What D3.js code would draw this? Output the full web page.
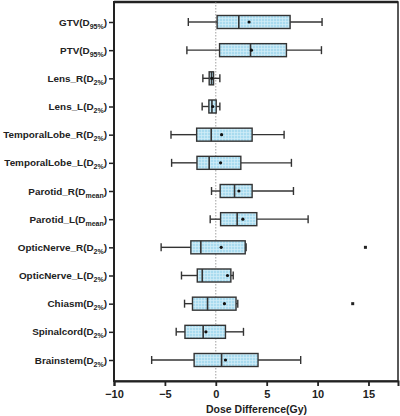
<!DOCTYPE html>
<html><head><meta charset="utf-8">
<script src="https://cdn.jsdelivr.net/npm/d3@7"></script>
<style>body{margin:0;background:#fff}svg{display:block}</style>
</head><body>
<script>
const labels = [["GTV(D","95%",")"],["PTV(D","95%",")"],["Lens_R(D","2%",")"],["Lens_L(D","2%",")"],
["TemporalLobe_R(D","2%",")"],["TemporalLobe_L(D","2%",")"],["Parotid_R(D","mean",")"],["Parotid_L(D","mean",")"],
["OpticNerve_R(D","2%",")"],["OpticNerve_L(D","2%",")"],["Chiasm(D","2%",")"],["Spinalcord(D","2%",")"],["Brainstem(D","2%",")"]];
const categories = labels.map(l=>l.join(""));
const whiskerLow  = [-2.7,-2.84,-1.27,-1.34,-4.4,-4.34,-0.42,-0.55,-5.37,-3.37,-3.07,-3.89,-6.3];
const q1          = [0.13,0.37,-0.65,-0.68,-1.88,-1.85,0.43,0.47,-2.45,-1.82,-2.29,-3.03,-2.13];
const median      = [2.26,3.41,-0.42,-0.38,-0.45,-0.65,1.84,2.1,-1.47,-1.33,-0.81,-1.24,0.57];
const q3          = [7.3,6.94,-0.22,0.04,3.57,2.46,3.57,4.03,2.89,1.48,1.99,0.95,4.15];
const whiskerHigh = [10.44,10.38,0.4,0.4,6.71,7.43,7.63,9.07,2.98,1.71,2.16,2.72,8.34];
const means       = [3.27,3.5,-0.4,-0.3,0.57,0.47,2.27,2.66,0.53,1.15,0.85,-0.97,0.95];
const outliers    = [{cat:8,v:14.7},{cat:10,v:13.45}];
const xTicks = [-10,-5,0,5,10,15];

const W=400,H=416;
const m={l:114,r:2,t:2,b:35};
const FONT="Liberation Sans, Arial, sans-serif";
const svg=d3.select("body").append("svg").attr("width",W).attr("height",H);
const defs=svg.append("defs");
const pat=defs.append("pattern").attr("id","grid").attr("patternUnits","userSpaceOnUse").attr("width",3).attr("height",3);
pat.append("rect").attr("width",3).attr("height",3).attr("fill","#a9dbef");
pat.append("path").attr("d","M0,0.5H3M0.5,0V3").attr("stroke","#d2eef8").attr("stroke-width",0.7);

const x=d3.scaleLinear().domain([-10,17.9]).range([m.l,W-m.r]);
const y=d3.scalePoint().domain(categories).range([22,360]);
const bottom=H-m.b;

// frame
svg.append("rect").attr("x",m.l).attr("y",m.t).attr("width",W-m.r-m.l).attr("height",bottom-m.t)
  .attr("fill","none").attr("stroke","#222").attr("stroke-width",1.5);
svg.append("line").attr("x1",m.l).attr("x2",W-m.r).attr("y1",m.t).attr("y2",m.t).attr("stroke","#222").attr("stroke-width",2.5);

// zero line
svg.append("line").attr("x1",x(0)).attr("x2",x(0)).attr("y1",m.t).attr("y2",bottom)
  .attr("stroke","#888").attr("stroke-width",0.8).attr("stroke-dasharray","1.5,1.5");

const xa=svg.append("g").attr("transform",`translate(0,${bottom})`)
  .call(d3.axisBottom(x).tickValues(xTicks).tickSize(5).tickPadding(4).tickFormat(d3.format("d")));
xa.select(".domain").attr("stroke","#222").attr("stroke-width",2);
xa.selectAll(".tick line").attr("stroke","#222").attr("stroke-width",1.8);
xa.selectAll("text").attr("font-family",FONT).attr("font-weight","bold").attr("font-size",11).attr("fill","#222");

const ya=svg.append("g").attr("transform",`translate(${m.l},0)`)
  .call(d3.axisLeft(y).tickSize(5).tickPadding(3).tickFormat(""));
ya.select(".domain").remove();
ya.selectAll(".tick line").attr("stroke","#222").attr("stroke-width",1.5);
svg.append("line").attr("x1",m.l).attr("x2",m.l).attr("y1",m.t-1).attr("y2",bottom+1).attr("stroke","#222").attr("stroke-width",2);

labels.forEach((l,i)=>{
  const t=svg.append("text").attr("x",m.l-7).attr("y",y(categories[i])+3.5).attr("text-anchor","end")
    .attr("font-family",FONT).attr("font-weight","bold").attr("font-size",9.9).attr("fill","#222");
  t.append("tspan").text(l[0]);
  t.append("tspan").text(l[1]).attr("font-size",7).attr("dy",3);
  t.append("tspan").text(l[2]).attr("dy",-3);
});

svg.append("text").attr("x",x(4)).attr("y",413).attr("text-anchor","middle")
  .attr("font-family",FONT).attr("font-weight","bold").attr("font-size",10.5).attr("fill","#222")
  .text("Dose Difference(Gy)");

const bh=6.5, cap=4;
categories.forEach((c,i)=>{
  const cy=y(c);
  const g=svg.append("g").attr("stroke","#333").attr("stroke-width",1.4);
  g.append("line").attr("x1",x(whiskerLow[i])).attr("x2",x(q1[i])).attr("y1",cy).attr("y2",cy);
  g.append("line").attr("x1",x(q3[i])).attr("x2",x(whiskerHigh[i])).attr("y1",cy).attr("y2",cy);
  g.append("line").attr("x1",x(whiskerLow[i])).attr("x2",x(whiskerLow[i])).attr("y1",cy-cap).attr("y2",cy+cap);
  g.append("line").attr("x1",x(whiskerHigh[i])).attr("x2",x(whiskerHigh[i])).attr("y1",cy-cap).attr("y2",cy+cap);
  g.append("rect").attr("x",x(q1[i])).attr("y",cy-bh).attr("width",x(q3[i])-x(q1[i])).attr("height",2*bh).attr("fill","url(#grid)");
  g.append("line").attr("x1",x(median[i])).attr("x2",x(median[i])).attr("y1",cy-bh).attr("y2",cy+bh).attr("stroke-width",1.6);
  svg.append("circle").attr("cx",x(means[i])).attr("cy",cy).attr("r",1.6).attr("fill","#111");
});
outliers.forEach(o=>{
  svg.append("rect").attr("x",x(o.v)-1.5).attr("y",y(categories[o.cat])-1.5).attr("width",3).attr("height",3).attr("fill","#222");
});
</script>
</body></html>
